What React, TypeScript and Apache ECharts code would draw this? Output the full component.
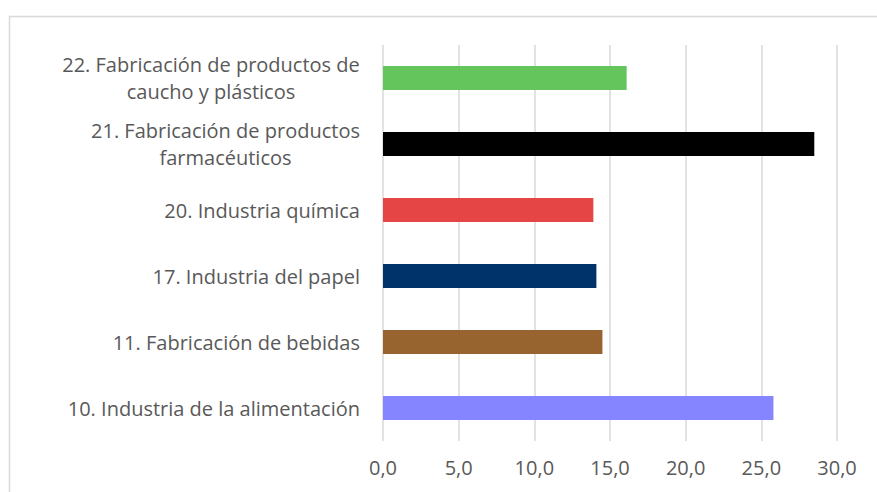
import React, { useEffect, useRef } from "react";
import * as echarts from "echarts";

const categories = [
  "10. Industria de la alimentación",
  "11. Fabricación de bebidas",
  "17. Industria del papel",
  "20. Industria química",
  "21. Fabricación de productos\nfarmacéuticos",
  "22. Fabricación de productos de\ncaucho y plásticos",
];
const values = [25.8, 14.5, 14.1, 13.9, 28.5, 16.1];
const colors = ["#8585FF", "#976430", "#00336A", "#E64545", "#000000", "#65C55D"];
const xTicks = { min: 0, max: 30, interval: 5 };

function measure(text: string, font: string): number {
  const c = document.createElement("canvas");
  const ctx = c.getContext("2d");
  if (!ctx) return text.length * 9;
  ctx.font = font;
  return ctx.measureText(text).width;
}

export default function App() {
  const ref = useRef<HTMLDivElement>(null);
  useEffect(() => {
    if (!ref.current) return;
    const chart = echarts.init(ref.current, null, { renderer: "svg" });
    const font = "Open Sans";
    const labelColor = "#595959";
    const fs = 20;
    const rich: Record<string, any> = {};
    const keyOf: Record<string, string> = {};
    categories.forEach((cat, i) => {
      const parts = cat.split("\n");
      if (parts.length > 1) {
        const w = Math.ceil(Math.max(...parts.map((p) => measure(p, `${fs}px "${font}"`))));
        const key = "m" + i;
        keyOf[cat] = key;
        rich[key] = { width: w, align: "center", color: labelColor, fontSize: fs, fontFamily: font, lineHeight: 27 };
      }
    });
    chart.setOption({
      animation: false,
      backgroundColor: "#ffffff",
      textStyle: { fontFamily: font },
      graphic: [
        {
          type: "rect",
          shape: { x: 9.5, y: 16.5, width: 1000, height: 600 },
          style: { fill: "none", stroke: "#d9d9d9", lineWidth: 1.5 },
          silent: true,
        },
      ],
      grid: { left: 383, right: 40, top: 45, bottom: 51, containLabel: false },
      xAxis: {
        type: "value",
        min: xTicks.min,
        max: xTicks.max,
        interval: xTicks.interval,
        axisLine: { show: false },
        axisTick: { show: false },
        splitLine: { show: true, lineStyle: { color: "#d9d9d9", width: 1.5 } },
        axisLabel: {
          color: labelColor,
          fontSize: fs,
          fontFamily: font,
          margin: 16,
          formatter: (v: number) => v.toFixed(1).replace(".", ","),
        },
      },
      yAxis: {
        type: "category",
        data: categories,
        axisLine: { show: false },
        axisTick: { show: false },
        splitLine: { show: false },
        axisLabel: {
          color: labelColor,
          fontSize: fs,
          fontFamily: font,
          margin: 23,
          lineHeight: 27,
          formatter: (v: string) => {
            const parts = v.split("\n");
            if (parts.length === 1) return v;
            const key = keyOf[v];
            return parts.map((p) => `{${key}|${p}}`).join("\n");
          },
          rich,
        },
      },
      series: [
        {
          type: "bar",
          barWidth: 24,
          data: values.map((v, i) => ({ value: v, itemStyle: { color: colors[i] } })),
        },
      ],
    });
    return () => chart.dispose();
  }, []);
  return (
    <div
      ref={ref}
      style={{ position: "fixed", left: 0, top: 0, width: 877, height: 492 }}
    />
  );
}
